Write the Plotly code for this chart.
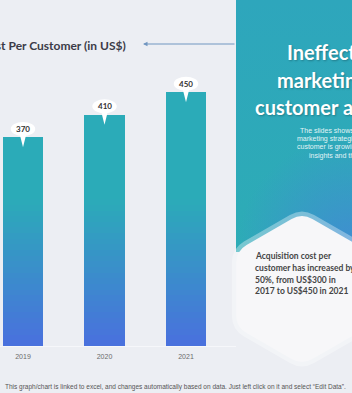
import plotly.graph_objects as go

# ---------------- data ----------------
years = ["2019", "2020", "2021"]
cost = [370, 410, 450]
chart_title = "Acquisition Cost Per Customer (in US$)"
heading_lines = ["Ineffective", "marketing leads to", "customer acquisition"]
sub_lines = ["The slides shows how ineffective", "marketing strategies mean cost per",
             "customer is growing due to lack of", "insights and the right targeting"]
hex_lines = ["Acquisition cost per", "customer has increased by",
             "50%, from US$300 in", "2017 to US$450 in 2021"]
footer = ("This graph/chart is linked to excel, and changes automatically based on data. "
          "Just left click on it and select \u201cEdit Data\u201d.")

W, H = 352, 393
BG = "#eceef3"

fig = go.Figure()

# ---------------- gradient bars (stacked slices of each bar) ----------------
def lerp(c1, c2, t):
    return "rgb(%d,%d,%d)" % tuple(round(a + (b - a) * t) for a, b in zip(c1, c2))

TEAL = (43, 171, 184)
BLUE = (74, 112, 222)
step = 10
levels = list(range(0, max(cost) + step, step))
xs = list(range(len(years)))
for L in levels:
    seg = [max(0, min(step, v - L)) for v in cost]
    t = min(1.0, (L + step / 2) / 260.0)
    fig.add_trace(go.Bar(x=xs, y=seg, width=0.5, marker=dict(color=lerp(BLUE, TEAL, t), line=dict(width=0)),
                         showlegend=False, hoverinfo="skip", xaxis="x", yaxis="y"))

# ---------------- bubbles with value labels ----------------
shapes = []
annotations = []
for i, v in enumerate(cost):
    shapes.append(dict(type="path", xref="x", yref="y", layer="above",
                       path=f"M {i-0.045},{v+8} L {i+0.045},{v+8} L {i},{v-18} Z",
                       fillcolor="white", line=dict(width=0)))
    shapes.append(dict(type="circle", xref="x", yref="y", layer="above",
                       x0=i - 0.15, x1=i + 0.15, y0=v + 2, y1=v + 27,
                       fillcolor="white", line=dict(width=0)))
    annotations.append(dict(x=i, y=v + 14.5, xref="x", yref="y", text=str(v), showarrow=False,
                            font=dict(family="Lato", size=8, color="#333333", weight="bold"),
                            yanchor="middle"))

# ---------------- right panel (overlay pixel axes) ----------------
fig.add_trace(go.Scatter(x=[236, 352, 352, 236, 236], y=[0, 0, 252, 252, 0], mode="lines",
                         fill="toself", line=dict(width=0),
                         fillgradient=dict(type="vertical",
                                           colorscale=[[0, "#2dacb6"], [1, "#2ea6bc"]]),
                         showlegend=False, hoverinfo="skip", xaxis="x2", yaxis="y2"))
# bluish glow toward the lower-right corner (radial, centred on the corner via bbox spike)
fig.add_trace(go.Scatter(x=[236, 352, 352, 468, 352, 236, 236],
                         y=[136, 136, 252, 368, 252, 252, 136], mode="lines",
                         fill="toself", line=dict(width=0),
                         fillgradient=dict(type="radial",
                                           colorscale=[[0, "rgba(66,138,212,0.95)"],
                                                       [1, "rgba(66,138,212,0)"]]),
                         showlegend=False, hoverinfo="skip", xaxis="x2", yaxis="y2"))

def rounded_poly(pts, r):
    n = len(pts)
    path = ""
    for k in range(n):
        p0 = pts[k - 1]; p1 = pts[k]; p2 = pts[(k + 1) % n]
        def towards(a, b, d):
            dx, dy = b[0] - a[0], b[1] - a[1]
            ln = (dx * dx + dy * dy) ** 0.5
            return (a[0] + dx / ln * d, a[1] + dy / ln * d)
        a = towards(p1, p0, r); b = towards(p1, p2, r)
        path += ("M" if k == 0 else "L") + f" {a[0]:.2f},{a[1]:.2f} Q {p1[0]},{p1[1]} {b[0]:.2f},{b[1]:.2f} "
    return path + "Z"

def hexagon(cx, cy, s):
    w = s * 3 ** 0.5 / 2
    return [(cx, cy - s), (cx + w, cy - s / 2), (cx + w, cy + s / 2),
            (cx, cy + s), (cx - w, cy + s / 2), (cx - w, cy - s / 2)]

shapes.append(dict(type="path", xref="x2", yref="y2", layer="above",
                   path=rounded_poly(hexagon(302, 289, 81), 14),
                   fillcolor="rgba(255,255,255,0.35)", line=dict(width=0)))
shapes.append(dict(type="path", xref="x2", yref="y2", layer="above",
                   path=rounded_poly(hexagon(302, 289, 76), 12),
                   fillcolor="#f7f7f9", line=dict(width=0)))

# ---------------- texts ----------------
annotations.append(dict(x=128, y=45, xref="x2", yref="y2", text=chart_title, showarrow=False,
                        xanchor="right", yanchor="middle",
                        font=dict(family="Lato", size=12, color="#3b3b47", weight="bold")))
annotations.append(dict(x=143, y=44, xref="x2", yref="y2", ax=236, ay=44, axref="x2", ayref="y2",
                        text="", showarrow=True, arrowhead=2, arrowsize=0.9, arrowwidth=1,
                        arrowcolor="#7196c0"))
for txt, x0, y0 in zip(heading_lines, [285, 275, 253], [52, 80, 107]):
    annotations.append(dict(x=x0, y=y0, xref="x2", yref="y2", text=txt, showarrow=False,
                            xanchor="left", yanchor="middle",
                            font=dict(family="Lato", size=20, color="white", weight="bold",
                                      shadow="1px 1px 2px rgba(0,0,0,0.25)")))
for txt, x0, y0 in zip(sub_lines, [298, 295, 295, 307], [130, 139, 147, 156]):
    annotations.append(dict(x=x0, y=y0, xref="x2", yref="y2", text=txt, showarrow=False,
                            xanchor="left", yanchor="middle",
                            font=dict(family="Liberation Sans", size=7, color="#e2f4f6")))
for txt, y0 in zip(hex_lines, [256, 268, 280, 291]):
    annotations.append(dict(x=253, y=y0, xref="x2", yref="y2", text=txt, showarrow=False,
                            xanchor="left", yanchor="middle",
                            font=dict(family="Lato", size=8.5, color="#454545", weight="bold")))
annotations.append(dict(x=3, y=387, xref="x2", yref="y2", text=footer, showarrow=False,
                        xanchor="left", yanchor="middle",
                        font=dict(family="Liberation Sans", size=6.5, color="#555555")))

px_per_cat = 81.5
x_lo = -23 / px_per_cat
fig.update_layout(
    width=W, height=H, margin=dict(l=0, r=0, t=0, b=0),
    paper_bgcolor=BG, plot_bgcolor="rgba(0,0,0,0)",
    barmode="stack", bargap=0, showlegend=False,
    xaxis=dict(domain=[0, 236 / W], range=[x_lo, x_lo + 236 / px_per_cat],
               tickvals=xs, ticktext=years, showgrid=False, zeroline=False,
               showline=True, linecolor="#f6f7fa", linewidth=1, ticks="", ticklabelstandoff=4,
               tickfont=dict(family="Liberation Sans", size=7, color="#6b6b6b"), fixedrange=True),
    yaxis=dict(domain=[47 / H, 1], range=[0, 346 / 0.5645], visible=False, fixedrange=True),
    xaxis2=dict(domain=[0, 1], range=[0, W], visible=False, anchor="y2", fixedrange=True),
    yaxis2=dict(domain=[0, 1], range=[H, 0], visible=False, anchor="x2", fixedrange=True),
    shapes=shapes, annotations=annotations,
)

fig.write_html("out.html")
